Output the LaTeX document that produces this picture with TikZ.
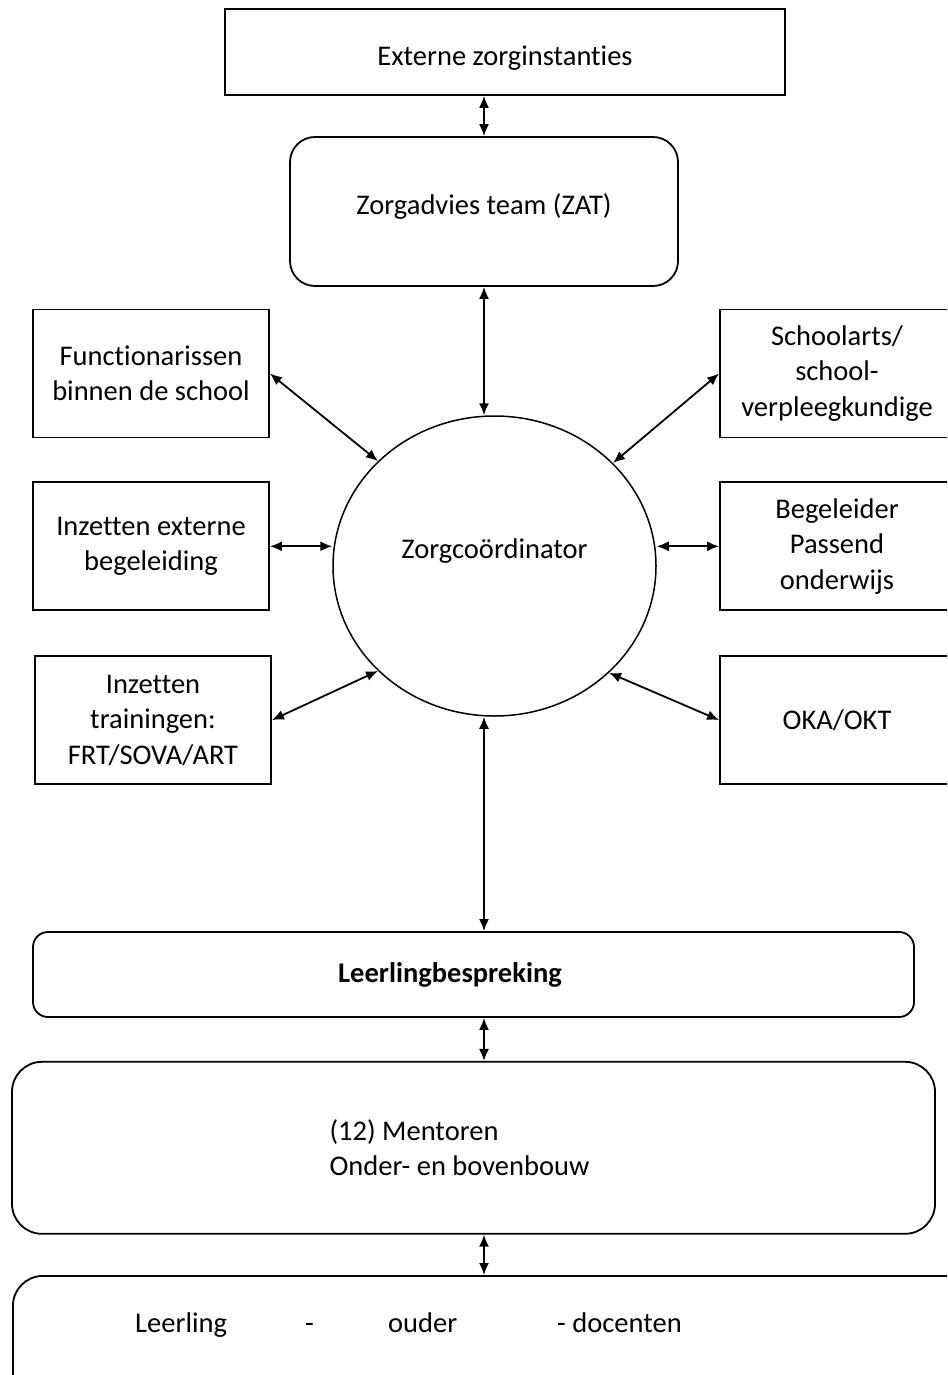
\documentclass[tikz,border=0pt]{standalone}
\usepackage{fontspec}
\setmainfont{Carlito}[Ligatures=NoCommon]
\usetikzlibrary{positioning,shapes,arrows.meta,calc}

\begin{document}
\begin{tikzpicture}[
  x=1pt, y=-1pt,
	node distance=43pt,
	every node/.style={
		text centered,
		font=\fontsize{28.5}{35.5}\selectfont
	},
	link/.style={
		line width=1.8pt,
		{Latex[length=12pt,width=10pt]}-{Latex[length=12pt,width=10pt]}
	},
	plainbox/.style={
		rectangle,
		draw,
		line width=1.8pt,
		minimum width=236pt,
		minimum height=128pt,
		align=center,
		inner sep=4pt
	},
	roundbox/.style={
		rectangle,
		draw,
		line width=1.8pt,
		rounded corners=25pt,
		align=center,
		inner sep=4pt
	},
	hub/.style={
		ellipse,
		draw,
		line width=1.5pt,
		minimum width=323pt,
		minimum height=300pt,
		inner sep=0pt
	}
]
  \clip (0,0) rectangle (947,1375);

  \node (Extern) [plainbox, minimum width=560pt, minimum height=86pt, text height=32pt] at (505,52) {Externe zorginstanties};
  \node (ZAT) [roundbox, minimum width=388pt, minimum height=149pt, text depth=14pt] at (484,211.5) {Zorgadvies team (ZAT)};
  \node (Coord) [hub, text depth=34pt] at (494.5,566) {Zorgcoördinator};

  \node (Functie) [plainbox] at (151,373.5) {Functionarissen\\binnen de school};
  \node (ExtBeg) [plainbox, below=of Functie] {Inzetten externe\\begeleiding};
  \node (Training) [plainbox, below=44pt of ExtBeg, xshift=2pt] {Inzetten\\trainingen:\\FRT/SOVA/ART};

  \node (Arts) [plainbox, minimum width=234pt] at (837,373.5) {Schoolarts/\\school-\\verpleegkundige};
  \node (Passend) [plainbox, minimum width=234pt, below=of Arts] {Begeleider\\Passend\\onderwijs};
  \node (OKA) [plainbox, minimum width=234pt, below=44pt of Passend] {OKA/OKT};

  \node (Bespreking) [roundbox, rounded corners=15pt, minimum width=881pt, minimum height=85pt] at (473.5,974.5) {\hspace*{-47pt}\textbf{Leerlingbespreking}};
  \node (Mentoren) [roundbox, rounded corners=30pt, minimum width=923pt, minimum height=172pt, below=of Bespreking, align=left] {(12) Mentoren\\Onder- en bovenbouw\hspace*{28pt}};
  \node (Basis) [roundbox, rounded corners=30pt, minimum width=960pt, minimum height=150pt, anchor=north west] at (12,1275) {};
  \node (BasisTekst) [anchor=west, inner sep=0pt] at (135,1325) {\makebox[170pt][l]{Leerling}\makebox[83pt][l]{-}\makebox[169pt][l]{ouder}- docenten};

  \draw[link] (Extern.south -| ZAT.north) -- (ZAT.north);
  \draw[link] (ZAT.south) -- (ZAT.south |- Coord.north);

  \draw[link] (Functie.east) -- (Coord.138);
  \draw[link] (ExtBeg.east) -- (ExtBeg.east -| Coord.west);
  \draw[link] (Training.east) -- (Coord.222.6);
  \draw[link] (Arts.west) -- (Coord.41.5);
  \draw[link] (Coord.east |- Passend.west) -- (Passend.west);
  \draw[link] (Coord.317) -- (OKA.west);

  \draw[link] (Coord.south -| ZAT.south) -- (Bespreking.north -| ZAT.south);
  \draw[link] (Bespreking.south -| ZAT.south) -- (Mentoren.north -| ZAT.south);
  \draw[link] (Mentoren.south -| ZAT.south) -- (Basis.north -| ZAT.south);
\end{tikzpicture}
\end{document}
